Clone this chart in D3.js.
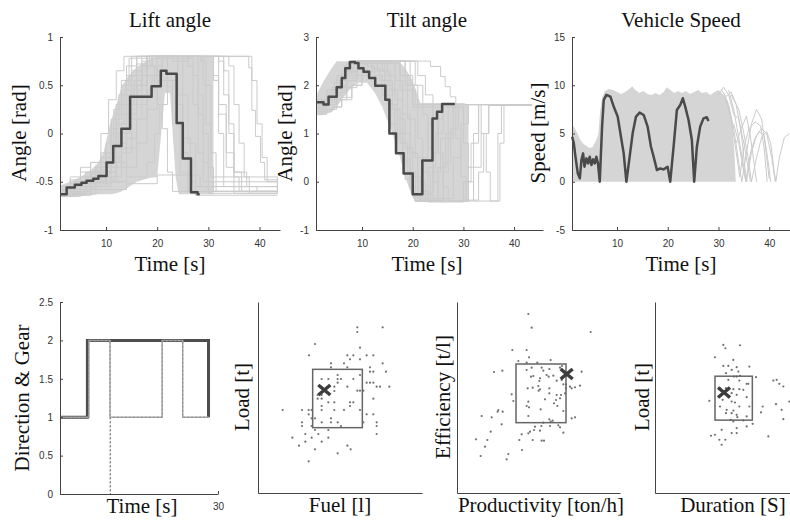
<!DOCTYPE html>
<html>
<head>
<meta charset="utf-8">
<script src="https://cdn.jsdelivr.net/npm/d3@7"></script>
<style>
  body { margin: 0; background: #fff; }
  svg { display: block; }
  .tick text { font-family: "Liberation Sans", Arial, sans-serif; font-size: 10px; fill: #333; }
  .domain, .tick line { stroke: #444; }
  .title, .label { font-family: "Liberation Serif", "Times New Roman", serif; fill: #111; }
</style>
</head>
<body>
<svg id="chart" width="790" height="522"></svg>
<script>
////////////////////////////  Data  ////////////////////////////////
const timeTicks = [10, 20, 30, 40];
const liftTicks = [-1, -0.5, 0, 0.5, 1];
const tiltTicks = [-1, 0, 1, 2, 3];
const speedTicks = [-5, 0, 5, 10, 15];
const gearTicks = [0, 0.5, 1, 1.5, 2, 2.5];
const gearTimeTicks = [30];

// highlighted cycle (dark line), [time, value]
const liftDark = [[1,-0.63],[2.3,-0.56],[3.9,-0.53],[5.2,-0.51],[6.2,-0.49],[7.5,-0.47],[8.5,-0.44],[10.1,-0.3],[11.4,-0.13],[13,0.05],[14.7,0.38],[18.9,0.49],[20.7,0.65],[21.8,0.62],[23.8,0.11],[25,-0.26],[26.6,-0.61],[27.9,-0.63],[28.3,-0.63]];
const tiltDark = [[1,1.65],[2.4,1.6],[3.4,1.76],[5,1.96],[6,2.15],[6.7,2.35],[7.6,2.48],[8.6,2.46],[9.3,2.35],[10.3,2.28],[11.4,2.15],[12.6,1.99],[14.6,1.7],[15.4,1.0],[16.7,0.59],[18.2,0.17],[20,-0.26],[21.9,0.44],[23.9,1.31],[24.8,1.45],[25.8,1.61],[28.3,1.61]];
const speedDark = [[1.15,4.67],[1.48,3.98],[1.8,2.6],[2.26,0.87],[2.66,0.35],[2.98,2.25],[3.31,2.94],[3.57,1.56],[3.97,2.42],[4.3,1.9],[4.62,2.6],[4.95,1.73],[5.28,2.32],[5.61,1.9],[5.93,2.6],[6.26,1.83],[6.59,0],[7.05,5.71],[7.38,8.48],[7.9,9.0],[8.69,8.82],[9.34,7.79],[10.13,6.75],[10.66,5.02],[11.31,2.94],[11.84,0],[12.49,2.6],[13.08,5.02],[13.74,6.75],[14.46,7.16],[15.25,6.92],[16.03,5.71],[16.69,3.63],[17.21,2.6],[17.87,1.21],[18.52,1.38],[19.18,1.28],[19.97,1.56],[20.49,0],[21.15,3.63],[21.8,7.44],[22.46,7.96],[22.98,8.65],[23.44,7.79],[24.1,6.4],[24.75,4.33],[25.21,0],[25.74,3.63],[26.39,5.71],[27.05,6.57],[27.7,6.68],[28.03,6.3]];

// dense region of all cycles, [time, low, high]
const liftBand = [[1,-0.66,-0.54],[3,-0.66,-0.5],[5,-0.65,-0.45],[7,-0.64,-0.38],[8.5,-0.63,-0.3],[9.5,-0.63,-0.2],[10.8,-0.63,0.1],[12,-0.62,0.3],[13,-0.6,0.48],[14,-0.57,0.57],[16,-0.5,0.69],[18.5,-0.46,0.77],[20,-0.45,0.8],[21.5,0.42,0.8],[22.5,0.42,0.8],[23.6,-0.45,0.8],[24.2,-0.63,0.8],[31,-0.63,0.8]];
const tiltBand = [[1,1.38,1.8],[2.5,1.38,2.1],[4,1.45,2.35],[5,1.55,2.5],[7,1.85,2.5],[9,2.05,2.5],[11,2.05,2.5],[12.5,1.85,2.5],[14,1.55,2.5],[16,1.0,2.5],[17.5,0.5,2.47],[18.5,0.1,2.35],[19.7,-0.25,2.15],[20.5,-0.42,1.95],[21.5,-0.42,1.63],[30,-0.42,1.63],[31,-0.42,1.6]];
const speedBand = [[1.1,5.9],[1.6,5.6],[2.2,5.0],[2.8,4.3],[3.4,3.9],[4,3.7],[4.6,3.5],[5.2,3.6],[5.8,4.2],[6.3,4.9],[6.7,7.5],[7.1,8.8],[7.6,9.4],[8.4,9.6],[9.2,9.5],[10,9.3],[10.8,9.1],[11.6,9.3],[12.4,9.6],[13,9.9],[13.6,9.5],[14.4,9.2],[15.2,9.4],[16,9.1],[16.8,9.0],[17.6,9.2],[18.4,9.0],[19.2,9.3],[19.8,9.8],[20.5,9.5],[21.3,9.2],[22,9.4],[22.8,9.2],[23.6,9.4],[24.4,9.1],[25.2,9.3],[26,9.5],[26.8,9.2],[27.6,9.3],[28.4,9.0],[29.2,9.3],[30,9.5],[30.8,9.1],[31.6,8.6],[32.2,7.6],[32.8,5.5],[33.2,2.5],[33.4,0]];

// individual cycles
const liftTraces = [
  [[1,-0.6],[3,-0.52],[6,-0.45],[8,-0.35],[10,-0.1],[11.5,0.25],[13,0.55],[15,0.8],[22,0.55],[23,0.1],[24.5,-0.4],[26,-0.6],[43.5,-0.6]],
  [[1,-0.63],[4,-0.55],[7,-0.42],[9,-0.25],[11,0.05],[12.5,0.4],[14,0.7],[16,0.8],[25,0.4],[26,-0.1],[27.5,-0.55],[43.5,-0.58]],
  [[1,-0.58],[3,-0.48],[5,-0.4],[7,-0.3],[9,-0.2],[11,0.15],[13,0.5],[14.5,0.78],[27,0.6],[28,0.2],[29,-0.3],[30,-0.62],[43.5,-0.62]],
  [[1,-0.65],[5,-0.58],[8,-0.5],[10,-0.4],[12,-0.15],[14,0.2],[16,0.5],[18,0.8],[29,0.5],[30.5,-0.2],[31.5,-0.6],[43.5,-0.6]],
  [[1,-0.6],[4,-0.5],[9,-0.4],[11,-0.25],[13,0.1],[15,0.45],[17,0.7],[19,0.8],[24,0.4],[25,-0.05],[26.5,-0.5],[27.5,-0.64],[43.5,-0.64]],
  [[1,-0.62],[6,-0.5],[10,-0.45],[12,-0.3],[14,-0.05],[16,0.3],[18,0.6],[20,0.8],[31,0.6],[32,0],[33,-0.55],[43.5,-0.58]],
  [[1,-0.55],[3,-0.45],[5,-0.35],[7,-0.3],[9,0],[10.5,0.35],[12,0.65],[13.5,0.8],[23,0.75],[24,0.3],[25,-0.2],[26,-0.6],[43.5,-0.6]],
  [[1,-0.64],[7,-0.55],[11,-0.5],[14,-0.35],[16,-0.1],[18,0.25],[20,0.55],[22,0.8],[33,0.65],[34,0.1],[35,-0.45],[36,-0.6],[43.5,-0.6]],
  [[1,-0.6],[5,-0.5],[9,-0.4],[12,-0.1],[14,0.3],[16,0.6],[18,0.8],[35.5,0.8],[37.9,0.68],[38.5,0.24],[39.2,-0.03],[40.2,-0.3],[41,-0.48],[43.5,-0.5]],
  [[1,-0.62],[6,-0.5],[10,-0.35],[12,0],[14,0.4],[17,0.7],[19,0.8],[31,0.8],[32,0.3],[33.5,-0.2],[35,-0.4],[37.5,-0.55],[39.5,-0.6],[43.5,-0.6]],
  [[1,-0.62],[8,-0.58],[14,-0.52],[20,-0.43],[28.4,-0.55],[43.5,-0.6]],
  [[1,-0.6],[4,-0.55],[8,-0.45],[11,-0.3],[12.5,0],[14,0.3],[15.5,0.55],[17,0.75],[18.5,0.8],[26,0.7],[27,0.3],[28,-0.2],[29,-0.5],[43.5,-0.58]],
  [[1,-0.58],[5,-0.45],[8,-0.38],[10,-0.25],[12,0.1],[13.5,0.45],[15,0.65],[17,0.8],[28.5,0.75],[29.5,0.1],[30.5,-0.45],[43.5,-0.55]],
  [[1,-0.6],[6,-0.52],[11,-0.45],[13,-0.2],[15,0.15],[17,0.4],[19,0.6],[21,0.8],[30,0.8],[31,0.55],[32,0.2],[33.5,-0.35],[35,-0.62],[43.5,-0.62]],
  [[1,-0.65],[4,-0.6],[7,-0.5],[9,-0.42],[11,-0.3],[13,0],[14.5,0.25],[16,0.5],[18,0.7],[20,0.3],[21,0.05],[22,-0.4],[23,-0.6],[43.5,-0.62]],
  [[1,-0.6],[3,-0.5],[6,-0.4],[9,-0.3],[11,0],[12,0.3],[14,0.6],[16,0.8],[27,0.8],[28,0.4],[29,0],[30,-0.35],[31,-0.6],[43.5,-0.6]],
  [[1,-0.62],[5,-0.55],[9,-0.48],[12,-0.35],[14,-0.15],[16,0.15],[18,0.45],[19.5,0.7],[21,0.8],[37.5,0.8],[38.5,0.55],[39.5,0.1],[40.5,-0.25],[41.5,-0.5],[43.5,-0.52]],
  [[1,-0.6],[4,-0.5],[7,-0.4],[10,-0.2],[12,0.2],[14,0.5],[16,0.72],[18,0.8],[32,0.75],[33,0.4],[34,0],[35,-0.4],[36.5,-0.6],[43.5,-0.6]],
  [[1,-0.63],[6,-0.55],[10,-0.5],[14,-0.45],[18,-0.3],[19.5,0],[20.5,0.3],[22,0.55],[24,0.75],[26,0.8],[34,0.7],[35,0.3],[36,-0.1],[37,-0.45],[38,-0.62],[43.5,-0.62]]
];
const tiltTraces = [
  [[1,1.6],[2.5,1.7],[4,1.9],[5.5,2.1],[7,2.35],[8.5,2.5],[12,2.35],[13.5,2.1],[15,1.6],[16.5,1.0],[18,0.4],[19.5,-0.1],[21,-0.35],[23,0.3],[24.5,1.0],[26,1.6],[43.5,1.6]],
  [[1,1.5],[3,1.6],[5,1.85],[7,2.15],[9,2.45],[13,2.3],[14.5,2.0],[16,1.5],[17.5,0.8],[19,0.2],[20.5,-0.4],[24,0.2],[25.5,0.9],[27,1.6],[43.5,1.6]],
  [[1,1.7],[3,1.85],[5,2.1],[6.5,2.4],[8,2.5],[15,2.45],[16.5,2.1],[18,1.4],[19.5,0.6],[21,0],[22.5,-0.4],[26,0.4],[27.5,1.1],[29,1.6],[43.5,1.6]],
  [[1,1.45],[4,1.55],[6,1.75],[8,2.0],[10,2.3],[12,2.5],[17,2.5],[18.5,2.2],[20,1.6],[21,0.9],[22,0.2],[23.5,-0.35],[28,0.5],[29.5,1.2],[31,1.6],[43.5,1.6]],
  [[1,1.6],[3,1.7],[5,2.0],[7,2.3],[9,2.5],[22.2,2.5],[23.5,2.39],[25.5,2.18],[26.4,1.97],[27.4,1.76],[28.5,1.6],[43.5,1.6]],
  [[1,1.55],[3,1.65],[5,1.9],[7,2.2],[9,2.45],[11,2.5],[20,2.5],[21,2.2],[22.5,1.8],[24,1.3],[25,0.6],[26,-0.1],[27,-0.4],[31,0.3],[32,1.0],[33,1.6],[43.5,1.6]],
  [[1,1.65],[3,1.8],[4.5,2.05],[6,2.3],[7.5,2.5],[11,2.4],[12.5,2.2],[14,1.8],[15.5,1.2],[17,0.6],[18.5,0.05],[20,-0.3],[22,0.5],[23,1.2],[24,1.6],[43.5,1.6]],
  [[1,1.4],[3,1.5],[5,1.7],[7,1.95],[9,2.2],[11,2.45],[16,2.45],[17.5,1.9],[19,1.3],[20.5,0.5],[22,-0.2],[23,-0.42],[30,0.0],[31.5,0.8],[33,1.6],[43.5,1.6]],
  [[1,1.6],[3,1.75],[5,2.0],[7,2.3],[9,2.5],[18,2.5],[19.5,2.0],[21,1.6],[33,1.6],[33.5,1.0],[34.5,0.2],[35.3,-0.4],[36.8,1.0],[37.5,1.6],[43.5,1.6]],
  [[1,1.5],[3,1.6],[5,1.8],[7,2.1],[9,2.4],[10.5,2.5],[14,2.3],[15.5,1.9],[17,1.3],[18.5,0.7],[20,0.1],[21.5,-0.38],[26,0.2],[27,0.9],[28,1.6],[43.5,1.6]],
  [[1,1.7],[3,1.9],[5,2.2],[7,2.45],[13,2.45],[14.5,2.1],[16,1.6],[17,1.0],[18,0.45],[19.5,-0.15],[20.5,-0.4],[25,0.3],[26.5,1.0],[28,1.6],[43.5,1.6]],
  [[1,1.45],[3,1.5],[4.5,1.55],[6,1.7],[8,2.0],[10,2.25],[12,2.5],[19,2.5],[20.5,2.0],[22,1.4],[23,0.7],[24,0.0],[25,-0.4],[32,0.3],[33.5,1.0],[35,1.6],[43.5,1.6]],
  [[1,1.6],[2.5,1.7],[4,1.95],[6,2.25],[8,2.5],[13,2.45],[15,2.2],[16.5,1.7],[18,1.0],[19.5,0.2],[21,-0.25],[24,0.6],[25,1.3],[26,1.6],[43.5,1.6]],
  [[1,1.55],[3,1.7],[5,1.95],[7,2.25],[9,2.5],[17,2.5],[18.5,2.0],[20,1.55],[29.5,1.55],[30,0.8],[31,0.0],[32,-0.4],[36.8,-0.4],[37.2,0.8],[38,1.6],[43.5,1.6]],
  [[1,1.62],[3,1.72],[5,1.98],[7,2.28],[9,2.48],[16,2.48],[17.5,2.2],[19,1.9],[20.5,1.6],[27.5,1.6],[28.5,0.9],[29.5,0.1],[30.5,-0.38],[33,0.2],[34,1.0],[35,1.58],[43.5,1.6]]
];
const speedTraces = [
  [[31,9.2],[32,8],[33,5.5],[34,2],[34.6,0],[35.5,3],[36.5,6],[37.5,7.5],[38.5,6.5],[39.3,3.5],[40,0.3]],
  [[32,9.5],[33,7.5],[34,4.5],[35,1.5],[35.5,0],[36.5,3],[37.5,4.8],[38.5,5.5],[39.5,5],[40.5,2.5],[41.2,0]],
  [[31.5,8.5],[32.5,6.5],[33.5,3],[34.2,0.5],[35,3.5],[36,5.5],[37.2,6.2],[38.3,5.8],[39,3.5],[39.6,0]],
  [[32.5,9],[34,7.5],[35,5],[36,2],[36.5,0],[37.5,2.5],[38.5,4.6],[39.5,5.2],[40.3,4],[41,1],[41.3,0],[42,2.5],[43,4.6],[44,5]],
  [[33,6],[34,4],[35,1],[35.4,0],[36.3,3],[37.2,4.5],[38,5.2],[39,4.8],[39.8,2],[40.3,0]],
  [[30,9],[31,9.8],[32,9],[33,7],[34,6.5],[35,4],[36,1],[36.3,0]],
  [[33.5,4],[34.5,5.5],[35.5,6.8],[36.2,5],[37,2],[37.5,0]],
  [[30.5,9.6],[31.5,8.8],[32.5,9.3],[33.5,8],[34.5,5],[35.2,1.5],[35.6,0]]
];

// direction & gear of the highlighted cycle
const gearTime = [0, 5.2, 28.2];
const gearValue = [1, 2, 1];
const dirTime = [0, 5.5, 9.5, 19.4, 23.3, 28.2];
const dirValue = [1, 2, 1, 2, 1, 1];
const dirRawTime = [0, 5.4, 9.5, 9.6, 19.4, 23.3, 28.2];
const dirRawValue = [1, 2, 0, 1, 2, 1, 1];

// KPI scatter: [x, y] per cycle, box = [x0, x1, y0, y1], mark = highlighted cycle
const fuelLoad = [[262,497],[262,483],[338,497],[135,447],[270,436],[117,413],[232,413],[250,413],[290,413],[310,413],[240,401],[270,401],[183,389],[222,389],[338,389],[183,377],[232,377],[300,377],[300,364],[310,364],[348,364],[203,354],[270,354],[213,342],[155,342],[175,342],[203,342],[250,342],[290,331],[300,331],[310,331],[203,331],[320,319],[330,319],[358,319],[232,319],[193,319],[193,306],[262,307],[270,307],[280,307],[143,294],[155,294],[143,283],[155,283],[175,272],[193,272],[240,272],[250,272],[310,283],[240,261],[155,261],[38,249],[96,249],[116,249],[125,249],[155,249],[193,249],[222,249],[270,249],[116,236],[290,236],[310,236],[125,224],[135,224],[183,224],[96,212],[155,212],[183,212],[203,212],[280,212],[320,212],[96,201],[125,201],[213,201],[320,201],[175,189],[135,189],[106,177],[145,177],[320,177],[67,166],[175,166],[125,166],[106,154],[155,154],[87,142],[232,142],[135,131],[242,131],[203,119],[116,95]];
const fuelLoadBox = [128, 277, 196, 371];
const fuelLoadMark = [163, 309];

const prodEff = [[205,537],[215,496],[392,483],[157,429],[200,429],[207,407],[175,396],[200,391],[232,391],[272,399],[102,363],[127,367],[200,369],[215,376],[245,376],[250,367],[268,372],[300,376],[306,381],[365,364],[213,349],[220,351],[240,344],[260,354],[266,349],[280,352],[290,337],[305,339],[238,336],[310,326],[318,326],[203,314],[218,316],[235,321],[240,311],[236,307],[268,314],[330,319],[335,314],[345,317],[360,322],[318,314],[155,296],[268,299],[290,294],[303,294],[300,284],[288,279],[315,299],[160,276],[255,281],[205,274],[200,261],[207,257],[282,269],[292,261],[242,251],[115,249],[113,244],[128,244],[310,246],[65,231],[95,227],[205,231],[335,224],[345,227],[268,221],[278,217],[272,214],[250,211],[125,206],[225,199],[244,201],[270,201],[295,203],[300,197],[92,184],[210,184],[185,176],[205,179],[222,189],[240,187],[310,181],[48,161],[82,159],[178,159],[218,159],[245,157],[252,157],[75,139],[186,129],[145,117],[62,111],[140,101]];
const prodEffBox = [168, 318, 211, 387];
const prodEffMark = [320, 357];

const durLoad = [[370,445],[376,435],[420,444],[345,408],[400,400],[370,382],[385,382],[410,378],[448,380],[395,370],[415,365],[378,360],[402,350],[410,350],[420,352],[468,348],[385,340],[418,338],[440,328],[445,328],[520,338],[530,340],[538,328],[550,320],[360,315],[378,315],[400,312],[418,312],[430,310],[395,300],[410,295],[358,290],[385,288],[440,288],[328,277],[368,280],[395,275],[405,272],[418,260],[448,260],[488,260],[528,267],[568,275],[360,260],[380,250],[400,248],[378,240],[395,240],[410,235],[412,228],[440,230],[483,242],[545,250],[550,222],[392,220],[400,215],[430,218],[458,208],[365,190],[410,195],[440,200],[395,180],[410,180],[333,172],[358,160],[505,170],[376,160],[365,145],[345,175]];
const durLoadBox = [345, 457, 219, 351];
const durLoadMark = [372, 302];

////////////////////////////  Draw  ////////////////////////////////
const svg = d3.select("#chart");
const fmt = (d) => String(d);

function drawAxes(x, y, xTicks, yTicks, xPad) {
  const bottom = y.range()[0];
  const left = x.range()[0];
  svg.append("g")
    .attr("transform", `translate(0,${bottom})`)
    .call(d3.axisBottom(x).tickValues(xTicks).tickSize(-3).tickSizeOuter(0).tickPadding(xPad).tickFormat(fmt));
  svg.append("g")
    .attr("transform", `translate(${left},0)`)
    .call(d3.axisLeft(y).tickValues(yTicks).tickSize(-3).tickSizeOuter(0).tickPadding(7).tickFormat(fmt));
}

function addText(cls, txt, x, y, size, rotate) {
  const t = svg.append("text").attr("class", cls).attr("text-anchor", "middle")
    .style("font-size", size + "px").text(txt);
  if (rotate) t.attr("transform", `translate(${x},${y}) rotate(-90)`);
  else t.attr("x", x).attr("y", y);
}

// time-series panel
function seriesPanel(p) {
  const x = d3.scaleLinear().domain(p.xDomain).range(p.xRange);
  const y = d3.scaleLinear().domain(p.yDomain).range([230, 37]);

  if (p.band) {
    const area = p.band[0].length === 3
      ? d3.area().x((d) => x(d[0])).y0((d) => y(d[1])).y1((d) => y(d[2]))
      : d3.area().x((d) => x(d[0])).y0(y(0)).y1((d) => y(d[1]));
    svg.append("path").datum(p.band).attr("d", area).attr("fill", "#d5d5d5");
  }

  const line = d3.line().x((d) => x(d[0])).y((d) => y(d[1])).curve(p.curve);
  svg.append("g").selectAll("path").data(p.traces).join("path")
    .attr("d", line).attr("fill", "none").attr("stroke", "#cbcbcb").attr("stroke-width", 1);

  svg.append("path").datum(p.dark).attr("d", line)
    .attr("fill", "none").attr("stroke", "#4a4a4a").attr("stroke-width", 2.5)
    .attr("stroke-linejoin", "round");

  drawAxes(x, y, timeTicks, p.yTicks, 10);
  addText("title", p.title, p.titleX, 27, 21);
  addText("label", "Time [s]", p.titleX, 271, 21);
  addText("label", p.yLabel, p.yLabelX, 133, 21, true);
}

seriesPanel({
  title: "Lift angle", titleX: 170, yLabel: "Angle [rad]", yLabelX: 26,
  xDomain: [1, 44], xRange: [60, 280], yDomain: [-1, 1], yTicks: liftTicks,
  band: liftBand, traces: liftTraces, dark: liftDark, curve: d3.curveStepAfter
});
seriesPanel({
  title: "Tilt angle", titleX: 427, yLabel: "Angle [rad]", yLabelX: 292,
  xDomain: [0.92, 45.7], xRange: [316, 543], yDomain: [-1, 3], yTicks: tiltTicks,
  band: tiltBand, traces: tiltTraces, dark: tiltDark, curve: d3.curveStepAfter
});
seriesPanel({
  title: "Vehicle Speed", titleX: 681, yLabel: "Speed [m/s]", yLabelX: 545,
  xDomain: [1.12, 44.1], xRange: [572, 790], yDomain: [-5, 15], yTicks: speedTicks,
  band: speedBand, traces: speedTraces, dark: speedDark, curve: d3.curveLinear
});

// direction & gear panel
{
  const x = d3.scaleLinear().domain([0, 30]).range([60, 218]);
  const y = d3.scaleLinear().domain([0, 2.5]).range([494, 302]);
  const step = d3.line().x((d) => x(d[0])).y((d) => y(d[1])).curve(d3.curveStepAfter);
  const zip = (a, b) => a.map((t, i) => [t, b[i]]);

  svg.append("path").datum(zip(gearTime, gearValue)).attr("d", step)
    .attr("fill", "none").attr("stroke", "#4d4d4d").attr("stroke-width", 3);
  svg.append("path").datum(zip(dirTime, dirValue)).attr("d", step)
    .attr("fill", "none").attr("stroke", "#a8a8a8").attr("stroke-width", 1.5);
  svg.append("path").datum(zip(dirRawTime, dirRawValue)).attr("d", step)
    .attr("fill", "none").attr("stroke", "#8a8a8a").attr("stroke-width", 1)
    .attr("stroke-dasharray", "2,2");

  drawAxes(x, y, gearTimeTicks, gearTicks, 9);
  addText("label", "Time [s]", 142, 513, 21);
  addText("label", "Direction & Gear", 29, 398, 21, true);
}

// KPI scatter panels
function scatterPanel(p) {
  const x = d3.scaleLinear().domain(p.xDomain).range(p.xRange);
  const y = d3.scaleLinear().domain(p.yDomain).range([493, 302]);

  svg.append("g").selectAll("circle").data(p.points).join("circle")
    .attr("cx", (d) => x(d[0])).attr("cy", (d) => y(d[1])).attr("r", 1.1)
    .attr("fill", "#707070");

  const b = p.box;
  svg.append("rect")
    .attr("x", x(b[0])).attr("y", y(b[3]))
    .attr("width", x(b[1]) - x(b[0])).attr("height", y(b[2]) - y(b[3]))
    .attr("fill", "none").attr("stroke", "#666").attr("stroke-width", 1.5);

  const mx = x(p.mark[0]), my = y(p.mark[1]);
  svg.append("path")
    .attr("d", `M${mx - 6},${my - 5}L${mx + 6},${my + 5}M${mx - 6},${my + 5}L${mx + 6},${my - 5}`)
    .attr("stroke", "#3d3d3d").attr("stroke-width", 3.5);

  drawAxes(x, y, [], [], 9);
  addText("label", p.xLabel, p.xLabelX, 512, 21);
  addText("label", p.yLabel, p.yLabelX, 397, 21, true);
}

scatterPanel({
  xDomain: [-36, 456], xRange: [258, 422], yDomain: [0, 573],
  points: fuelLoad, box: fuelLoadBox, mark: fuelLoadMark,
  xLabel: "Fuel [l]", xLabelX: 340, yLabel: "Load [t]", yLabelX: 249
});
scatterPanel({
  xDomain: [-9, 480], xRange: [457, 620], yDomain: [0, 573],
  points: prodEff, box: prodEffBox, mark: prodEffMark,
  xLabel: "Productivity [ton/h]", xLabelX: 541, yLabel: "Efficiency [t/l]", yLabelX: 450
});
scatterPanel({
  xDomain: [165, 570], xRange: [655, 790], yDomain: [0, 574],
  points: durLoad, box: durLoadBox, mark: durLoadMark,
  xLabel: "Duration [S]", xLabelX: 733, yLabel: "Load [t]", yLabelX: 649
});
</script>
</body>
</html>
